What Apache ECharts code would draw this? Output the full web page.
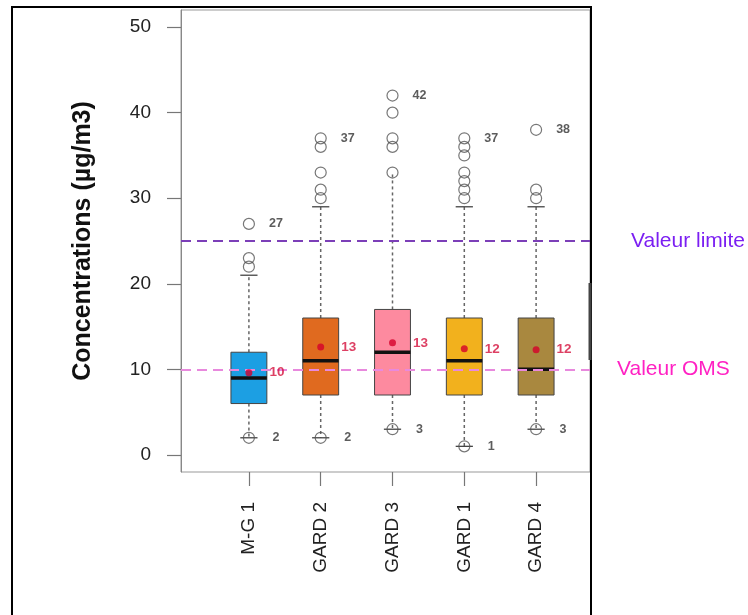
<!DOCTYPE html>
<html>
<head>
<meta charset="utf-8">
<script src="https://cdn.jsdelivr.net/npm/echarts@6/dist/echarts.min.js"></script>
<style>
  html, body { margin: 0; padding: 0; background: #fff; }
  #chart { width: 748px; height: 615px; }
</style>
</head>
<body>
<div id="chart"></div>
<script>
// ---- data ----
const categories = ['M-G 1', 'GARD 2', 'GARD 3', 'GARD 1', 'GARD 4'];
const whiskerLow = [2, 2, 3, 1, 3];
const q1 = [6, 7, 7, 7, 7];
const medians = [9, 11, 12, 11, 10];
const q3 = [12, 16, 17, 16, 16];
const whiskerHigh = [21, 29, 33, 29, 29];
const means = [9.6, 12.6, 13.1, 12.4, 12.3];
const outliers = [
  [22, 23, 27],
  [30, 31, 33, 36, 37],
  [33, 36, 37, 40, 42],
  [30, 31, 32, 33, 35, 36, 37],
  [30, 31, 38]
];
const minima = [2, 2, 3, 1, 3];
const yTicks = [0, 10, 20, 30, 40, 50];
const refLimit = 25;
const refOMS = 10;
const refLimitLabel = 'Valeur limite';
const refOMSLabel = 'Valeur OMS';
const yTitle = 'Concentrations (µg/m3)';

// ---- styles ----
const boxColors = ['#1c9fe3', '#e06a1f', '#fd8a9f', '#f2b11d', '#a9883f'];
const noUpperCap = new Set([2]);
const FONT = '"Liberation Sans", Arial, Helvetica, sans-serif';

const maxima = outliers.map(a => Math.max.apply(null, a));

const chart = echarts.init(document.getElementById('chart'), null, { renderer: 'canvas' });

function renderBox(params, api) {
  const idx = api.value(0);
  const lo = api.coord([idx, api.value(1)]);
  const p1 = api.coord([idx, api.value(2)]);
  const pm = api.coord([idx, api.value(3)]);
  const p3 = api.coord([idx, api.value(4)]);
  const hi = api.coord([idx, api.value(5)]);
  const band = api.size([1, 0])[0];
  const bw = band * 0.5;
  const cw = band * 0.24;
  const cx = lo[0];
  const dashStyle = { stroke: '#666', lineWidth: 1.5, lineDash: [3, 3] };
  const capStyle = { stroke: '#444', lineWidth: 1.3 };
  const children = [
    { type: 'line', shape: { x1: cx, y1: p1[1], x2: cx, y2: lo[1] }, style: dashStyle },
    { type: 'line', shape: { x1: cx, y1: p3[1], x2: cx, y2: hi[1] }, style: dashStyle },
    { type: 'line', shape: { x1: cx - cw / 2, y1: lo[1], x2: cx + cw / 2, y2: lo[1] }, style: capStyle },
    { type: 'rect', shape: { x: cx - bw / 2, y: p3[1], width: bw, height: p1[1] - p3[1] },
      style: { fill: boxColors[idx], stroke: '#444', lineWidth: 1 } },
    { type: 'line', shape: { x1: cx - bw / 2, y1: pm[1], x2: cx + bw / 2, y2: pm[1] },
      style: { stroke: '#111', lineWidth: 3.5 } }
  ];
  if (!noUpperCap.has(idx)) {
    children.push({ type: 'line', shape: { x1: cx - cw / 2, y1: hi[1], x2: cx + cw / 2, y2: hi[1] }, style: capStyle });
  }
  return { type: 'group', children: children };
}

const outlierData = [];
outliers.forEach((arr, i) => arr.forEach(v => outlierData.push([i, v])));

const circleStyle = { color: 'rgba(0,0,0,0)', borderColor: '#555', borderWidth: 1.2 };
const smallLabel = {
  show: true, position: 'inside', offset: [27, 0],
  fontSize: 12.5, fontWeight: 'bold', color: '#333', fontFamily: FONT
};

const option = {
  animation: false,
  backgroundColor: '#fff',
  grid: [
    { left: 181, right: 158, top: 10, bottom: 143, show: true, borderColor: '#999', borderWidth: 1, backgroundColor: 'rgba(0,0,0,0)' },
    { left: 213, right: 176, top: 10, bottom: 143 }
  ],
  xAxis: [
    { type: 'value', gridIndex: 0, min: 0, max: 1, show: false },
    {
      type: 'category', gridIndex: 1, data: categories, boundaryGap: true, position: 'bottom',
      axisLine: { show: false, onZero: false },
      axisTick: { show: true, alignWithLabel: true, length: 14, lineStyle: { color: '#777', width: 1.2 } },
      axisLabel: { rotate: 90, fontSize: 19, color: '#222', margin: 30, fontFamily: FONT },
      splitLine: { show: false }
    }
  ],
  yAxis: [
    {
      type: 'value', gridIndex: 0, min: -2, max: 52,
      axisLine: { show: true, onZero: false, lineStyle: { color: '#888', width: 1 } },
      axisTick: { show: true, length: 14, customValues: yTicks, lineStyle: { color: '#777', width: 1.2 } },
      axisLabel: { customValues: yTicks, fontSize: 19, color: '#222', margin: 30, fontFamily: FONT },
      splitLine: { show: false },
      name: yTitle, nameLocation: 'middle', nameGap: 85, nameRotate: 90,
      nameTextStyle: { fontSize: 25, fontWeight: 'bold', color: '#111', fontFamily: FONT }
    },
    { type: 'value', gridIndex: 1, min: -2, max: 52, show: false }
  ],
  series: [
    {
      type: 'custom', name: 'boxes', xAxisIndex: 1, yAxisIndex: 1, z: 2,
      renderItem: renderBox,
      encode: { x: 0, y: [1, 2, 3, 4, 5] },
      data: categories.map((c, i) => [i, whiskerLow[i], q1[i], medians[i], q3[i], whiskerHigh[i]])
    },
    {
      type: 'scatter', name: 'outliers', xAxisIndex: 1, yAxisIndex: 1, z: 3,
      symbol: 'circle', symbolSize: 11, itemStyle: circleStyle,
      label: Object.assign({}, smallLabel, {
        formatter: p => (p.value[1] === maxima[p.value[0]] ? String(p.value[1]) : '')
      }),
      data: outlierData
    },
    {
      type: 'scatter', name: 'minima', xAxisIndex: 1, yAxisIndex: 1, z: 3,
      symbol: 'circle', symbolSize: 11, itemStyle: circleStyle,
      label: Object.assign({}, smallLabel, { formatter: p => String(p.value[1]) }),
      data: minima.map((v, i) => [i, v])
    },
    {
      type: 'line', name: 'refs', xAxisIndex: 0, yAxisIndex: 0, z: 4,
      data: [],
      markLine: {
        silent: true, symbol: ['none', 'none'],
        lineStyle: { type: [10, 6], width: 2 },
        label: { position: 'end', distance: 5, fontSize: 21, fontFamily: FONT },
        data: [
          { yAxis: refLimit, lineStyle: { color: '#7c3fb8' },
            label: { formatter: refLimitLabel, color: '#7b1ff2', padding: [0, 0, 18, 36] } },
          { yAxis: refOMS, lineStyle: { color: '#e889dd' },
            label: { formatter: refOMSLabel, color: '#ff21c3', padding: [0, 0, 18, 22] } }
        ]
      }
    },
    {
      type: 'scatter', name: 'means', xAxisIndex: 1, yAxisIndex: 1, z: 6,
      symbol: 'circle', symbolSize: 7, itemStyle: { color: '#d4002a' },
      label: {
        show: true, position: 'inside', offset: [28, 0],
        formatter: p => String(Math.round(p.value[1])),
        fontSize: 13.5, fontWeight: 'bold', color: '#d4103c', fontFamily: FONT
      },
      data: means.map((v, i) => [i, v])
    }
  ],
  graphic: [
    { type: 'rect', silent: true, z: 100,
      shape: { x: 12, y: 7, width: 579, height: 640 },
      style: { fill: null, stroke: '#000', lineWidth: 2 } },
    { type: 'line', silent: true, z: 100,
      shape: { x1: 590, y1: 283, x2: 590, y2: 360 },
      style: { stroke: '#444', lineWidth: 3 } }
  ]
};

chart.setOption(option);
</script>
</body>
</html>
